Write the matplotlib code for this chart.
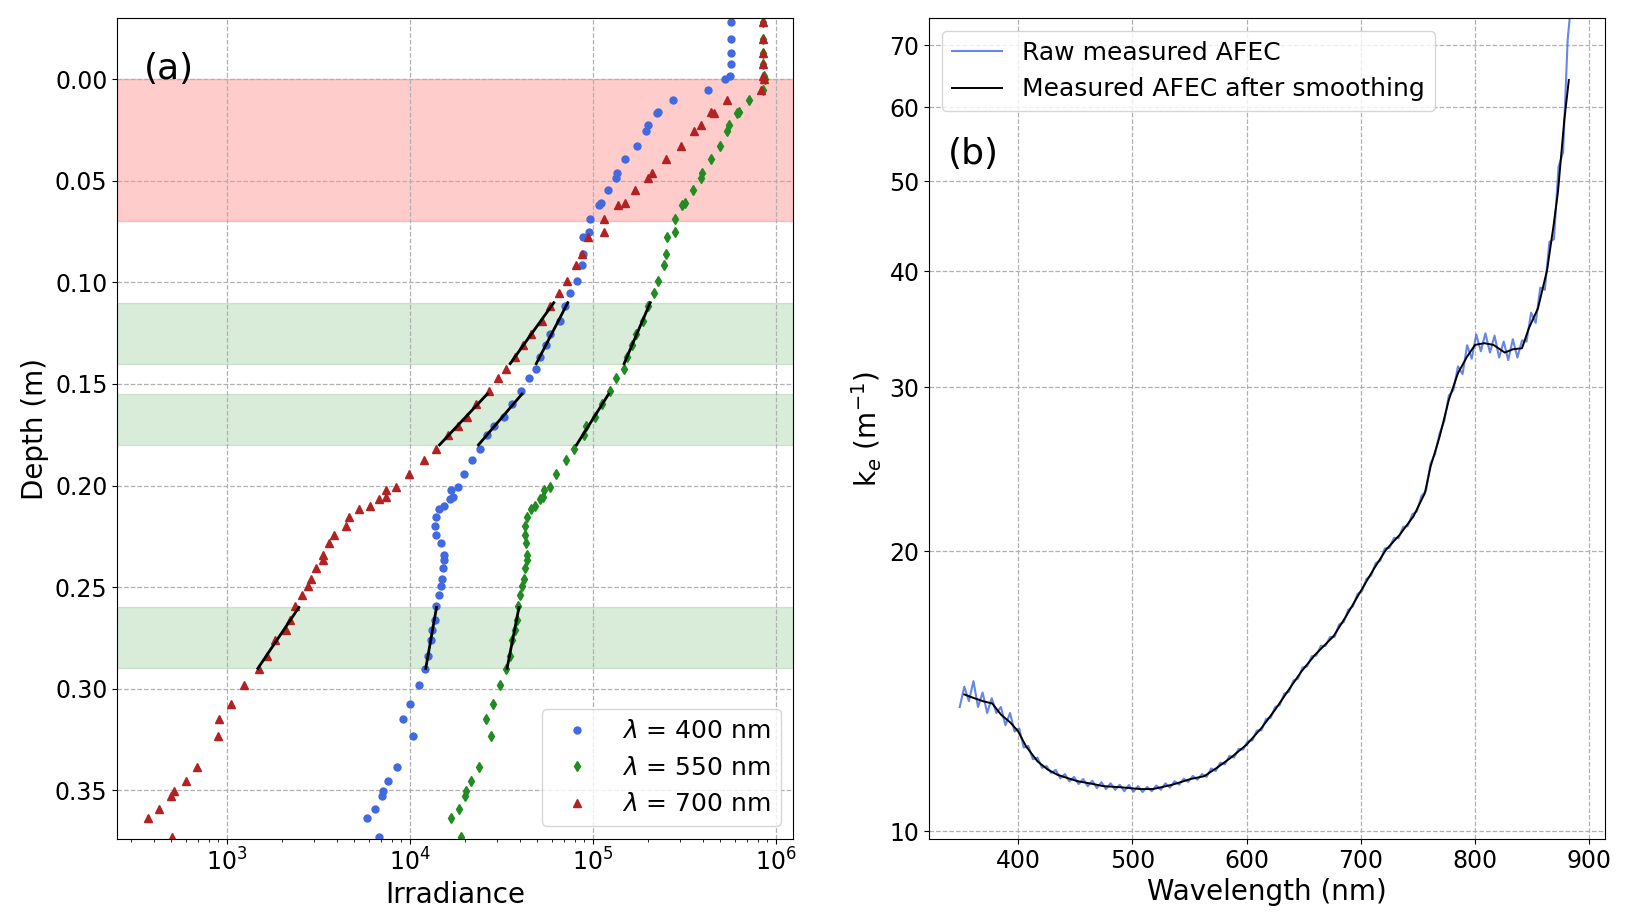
import numpy as np
import matplotlib
matplotlib.use('Agg')
import matplotlib.pyplot as plt
from matplotlib.ticker import FixedLocator, NullLocator, FormatStrFormatter

# ---- panel (a): irradiance profiles ----
depth = [-0.028, -0.020, -0.013, -0.0075, -0.0015, 0.0, 0.0055, 0.0100, 0.0160, 0.0168,
         0.0225, 0.0257, 0.0330, 0.0395, 0.0462, 0.0487, 0.0544, 0.0607, 0.0618, 0.0689,
         0.0752, 0.0779, 0.0860, 0.0916, 0.0995, 0.1051, 0.1118, 0.1192, 0.1252, 0.1307,
         0.1367, 0.1424, 0.1473, 0.1536, 0.1600, 0.1663, 0.1708, 0.1750, 0.1819, 0.1873,
         0.1945, 0.2005, 0.2023, 0.2055, 0.2067, 0.2101, 0.2118, 0.2155, 0.2200, 0.2243,
         0.2284, 0.2342, 0.2365, 0.2407, 0.2461, 0.2497, 0.2538, 0.2595, 0.2660, 0.2709,
         0.2758, 0.2840, 0.2902, 0.2984, 0.3074, 0.3147, 0.3235, 0.3387, 0.3456, 0.3502,
         0.3529, 0.3592, 0.3635, 0.3730]

e400 = [5.70e5, 5.70e5, 5.70e5, 5.68e5, 5.65e5, 5.32e5, 4.26e5, 2.74e5, 2.28e5, 2.24e5,
        2.00e5, 1.95e5, 1.75e5, 1.50e5, 1.36e5, 1.35e5, 1.21e5, 1.11e5, 1.08e5, 9.64e4,
        9.59e4, 8.85e4, 8.85e4, 8.75e4, 8.22e4, 7.55e4, 7.08e4, 6.64e4, 5.89e4, 5.57e4,
        5.15e4, 4.89e4, 4.51e4, 4.06e4, 3.65e4, 3.28e4, 2.88e4, 2.65e4, 2.43e4, 2.20e4,
        1.98e4, 1.83e4, 1.69e4, 1.72e4, 1.67e4, 1.55e4, 1.44e4, 1.40e4, 1.38e4, 1.40e4,
        1.48e4, 1.54e4, 1.54e4, 1.52e4, 1.50e4, 1.48e4, 1.44e4, 1.40e4, 1.37e4, 1.33e4,
        1.31e4, 1.26e4, 1.22e4, 1.12e4, 1.01e4, 9.18e3, 1.05e4, 8.49e3, 7.62e3, 7.16e3,
        7.05e3, 6.50e3, 5.85e3, 6.85e3]

e550 = [8.51e5, 8.51e5, 8.51e5, 8.51e5, 8.61e5, 8.71e5, 8.49e5, 7.16e5, 6.31e5, 6.17e5,
        5.55e5, 5.46e5, 4.99e5, 4.42e5, 3.97e5, 3.89e5, 3.52e5, 3.21e5, 3.09e5, 2.81e5,
        2.81e5, 2.56e5, 2.53e5, 2.47e5, 2.28e5, 2.16e5, 2.02e5, 1.89e5, 1.73e5, 1.64e5,
        1.55e5, 1.49e5, 1.34e5, 1.24e5, 1.13e5, 1.03e5, 9.23e4, 8.99e4, 7.87e4, 7.16e4,
        6.31e4, 5.89e4, 5.43e4, 5.37e4, 5.15e4, 4.83e4, 4.63e4, 4.40e4, 4.28e4, 4.28e4,
        4.35e4, 4.40e4, 4.37e4, 4.28e4, 4.21e4, 4.12e4, 4.02e4, 3.91e4, 3.85e4, 3.75e4,
        3.65e4, 3.52e4, 3.37e4, 3.11e4, 2.84e4, 2.61e4, 2.80e4, 2.39e4, 2.18e4, 2.04e4,
        2.00e4, 1.86e4, 1.69e4, 1.91e4]

e700 = [8.49e5, 8.49e5, 8.49e5, 8.49e5, 8.51e5, 8.61e5, 8.28e5, 5.46e5, 4.42e5, 4.63e5,
        3.91e5, 3.57e5, 3.05e5, 2.51e5, 2.10e5, 2.01e5, 1.70e5, 1.50e5, 1.37e5, 1.15e5,
        1.15e5, 9.48e4, 8.75e4, 8.09e4, 7.28e4, 6.55e4, 5.89e4, 5.28e4, 4.63e4, 4.17e4,
        3.78e4, 3.37e4, 3.03e4, 2.72e4, 2.32e4, 2.07e4, 1.83e4, 1.62e4, 1.40e4, 1.20e4,
        9.95e3, 8.39e3, 7.43e3, 7.43e3, 6.85e3, 6.07e3, 5.32e3, 4.68e3, 4.49e3, 3.87e3,
        3.63e3, 3.35e3, 3.35e3, 3.10e3, 2.90e3, 2.79e3, 2.57e3, 2.38e3, 2.23e3, 2.11e3,
        1.84e3, 1.66e3, 1.51e3, 1.24e3, 1.06e3, 914, 899, 693, 597, 518,
        497, 428, 371, 501]

red_band = (0.0, 0.07)
green_bands = [(0.11, 0.14), (0.155, 0.18), (0.26, 0.29)]

# ---- panel (b): AFEC spectrum ----
raw_wl = np.arange(349, 886, 4)   # spectrometer grid, 4 nm
raw_k = [13.6, 14.3, 13.8, 14.5, 13.6, 14.1, 13.4, 13.9, 13.4, 13.6,
         13.0, 13.4, 12.8, 12.9, 12.3, 12.35, 11.95, 12.0, 11.7, 11.75,
         11.55, 11.64, 11.40, 11.52, 11.31, 11.44, 11.24, 11.38, 11.18, 11.33,
         11.13, 11.29, 11.10, 11.26, 11.08, 11.22, 11.04, 11.21, 11.03, 11.18,
         11.02, 11.16, 11.04, 11.20, 11.08, 11.26, 11.14, 11.32, 11.22, 11.39,
         11.30, 11.47, 11.36, 11.52, 11.44, 11.68, 11.61, 11.85, 11.80, 12.05,
         12.00, 12.26, 12.24, 12.50, 12.52, 12.83, 12.84, 13.20, 13.24, 13.60,
         13.66, 14.06, 14.12, 14.52, 14.59, 15.00, 15.04, 15.42, 15.45, 15.82,
         15.82, 16.17, 16.18, 16.68, 16.78, 17.30, 17.44, 17.99, 18.12, 18.68,
         18.83, 19.42, 19.53, 20.14, 20.16, 20.67, 20.66, 21.24, 21.28, 21.92,
         22.06, 22.92, 23.23, 24.85, 25.45, 26.80, 27.6, 29.4, 29.8, 31.6,
         31.0, 33.3, 32.2, 34.2, 32.8, 34.3, 32.7, 34.1, 32.3, 33.6,
         32.1, 33.8, 32.3, 33.7, 33.6, 36.1, 35.2, 38.4, 38.2, 43.0,
         43.3, 51.8, 53.7, 71.0, 80.0]

smooth_wl = [353, 361, 370, 377.5, 385, 393.5, 400, 407, 417, 426,
             434.5, 443, 452, 464, 475, 490, 507, 518, 535, 551,
             563, 574, 586, 600, 613, 625, 637, 648, 660, 676,
             687, 699, 711, 722, 734, 746, 756, 761, 769, 777,
             785, 793, 800, 808, 816, 826, 833, 841, 847, 855,
             863, 868.5, 872.5, 878, 882]
smooth_k = [14.03, 13.91, 13.79, 13.72, 13.35, 13.08, 12.81, 12.34, 11.89, 11.65,
            11.50, 11.41, 11.32, 11.25, 11.18, 11.15, 11.10, 11.10, 11.22, 11.38,
            11.46, 11.70, 11.99, 12.39, 12.91, 13.51, 14.20, 14.85, 15.48, 16.20,
            17.02, 18.04, 19.11, 20.07, 20.83, 21.80, 23.09, 24.66, 26.57, 29.09,
            31.08, 32.38, 33.33, 33.47, 33.33, 32.70, 32.97, 33.05, 34.73, 36.49,
            40.12, 44.66, 48.69, 58.1, 64.2]

depth = np.array(depth)
series = [
    (np.array(e400), 'royalblue', 'o', 5, r'$\lambda$ = 400 nm'),
    (np.array(e550), 'forestgreen', 'd', 5.5, r'$\lambda$ = 550 nm'),
    (np.array(e700), 'firebrick', '^', 5.5, r'$\lambda$ = 700 nm'),
]

tick_fs = 17
label_fs = 20
legend_fs = 18
grid_kw = dict(linestyle='--', color='#b0b0b0', linewidth=0.9)

fig = plt.figure(figsize=(16.29, 9.24), dpi=100)
ax1 = fig.add_axes([0.0720, 0.0920, 0.4150, 0.8882])
ax2 = fig.add_axes([0.5705, 0.0920, 0.4148, 0.8882])

# bands
ax1.axhspan(*red_band, color='red', alpha=0.2, zorder=0.2)
for top, bot in green_bands:
    ax1.axhspan(top, bot, color='green', alpha=0.15, zorder=0.2)

for E, col, mk, ms, lab in series:
    ax1.plot(E, depth, linestyle='none', marker=mk, color=col, markersize=ms, label=lab)

# linear fits of log irradiance inside the green bands
for top, bot in green_bands:
    for E, col, mk, ms, lab in series:
        m = (depth >= top) & (depth <= bot)
        p = np.polyfit(depth[m], np.log10(E[m]), 1)
        dd = np.array([top, bot])
        ax1.plot(10 ** np.polyval(p, dd), dd, color='black', linewidth=2, zorder=3)

ax1.set_xscale('log')
ax1.set_xlim(253, 1.25e6)
ax1.set_ylim(0.374, -0.030)
ax1.yaxis.set_major_locator(FixedLocator(np.arange(0, 0.36, 0.05)))
ax1.yaxis.set_major_formatter(FormatStrFormatter('%.2f'))
ax1.set_axisbelow(True)
ax1.grid(True, which='major', **grid_kw)
ax1.tick_params(labelsize=tick_fs)
ax1.set_xlabel('Irradiance', fontsize=label_fs)
ax1.set_ylabel('Depth (m)', fontsize=label_fs)
ax1.legend(loc='lower right', fontsize=legend_fs)
ax1.text(0.040, 0.938, '(a)', transform=ax1.transAxes, fontsize=26, va='center', ha='left')

# panel (b)
ax2.plot(raw_wl, raw_k, color='royalblue', alpha=0.8, linewidth=1.5, label='Raw measured AFEC')
ax2.plot(smooth_wl, smooth_k, color='black', linewidth=1.4, label='Measured AFEC after smoothing')
ax2.set_yscale('log')
ax2.set_ylim(9.81, 74.8)
ax2.set_xlim(322.4, 913.7)
ax2.yaxis.set_major_locator(FixedLocator([10, 20, 30, 40, 50, 60, 70]))
ax2.yaxis.set_major_formatter(FormatStrFormatter('%d'))
ax2.yaxis.set_minor_locator(NullLocator())
ax2.xaxis.set_major_locator(FixedLocator([400, 500, 600, 700, 800, 900]))
ax2.set_axisbelow(True)
ax2.grid(True, which='major', **grid_kw)
ax2.tick_params(labelsize=tick_fs)
ax2.set_xlabel('Wavelength (nm)', fontsize=label_fs)
ax2.set_ylabel(r'k$_e$ (m$^{-1}$)', fontsize=label_fs)
ax2.legend(loc='upper left', fontsize=legend_fs)
ax2.text(0.027, 0.835, '(b)', transform=ax2.transAxes, fontsize=26, va='center', ha='left')

fig.savefig('out.png', dpi=100)
